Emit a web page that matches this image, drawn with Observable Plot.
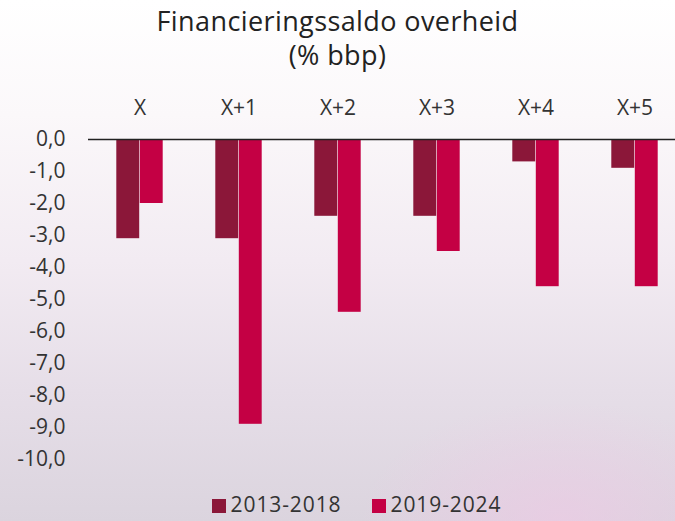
<!DOCTYPE html>
<html>
<head>
<meta charset="utf-8">
<script src="https://cdn.jsdelivr.net/npm/d3@7"></script>
<script src="https://cdn.jsdelivr.net/npm/@observablehq/plot@0.6"></script>
<style>
  html, body { margin: 0; padding: 0; }
  body {
    width: 675px; height: 521px; overflow: hidden;
    font-family: "Open Sans", sans-serif; color: #222;
    background:
      radial-gradient(ellipse 200px 120px at 560px 521px, rgba(240,200,230,0.6), rgba(240,200,230,0)),
      linear-gradient(to bottom, #ffffff 0%, #fbf8fa 22%, #f2ebf2 50%, #e6dee8 75%, #dbd4de 100%);
  }
  #title { height: 80px; text-align: center; font-size: 27px; line-height: 34px; padding-top: 4px; box-sizing: border-box; letter-spacing: 0.4px; }
  #chart svg { display: block; background: transparent; }
  #legend { height: 41px; display: flex; justify-content: center; align-items: center; gap: 30px; font-size: 21px; line-height: 24px; color: #333; padding-top: 6px; padding-left: 38px; box-sizing: border-box; letter-spacing: 0.9px; }
  #legend span.sw { display: inline-block; width: 14px; height: 14px; margin-right: 5px; vertical-align: -1px; }
</style>
</head>
<body>
<div id="title">Financieringssaldo overheid<br>(% bbp)</div>
<div id="chart"></div>
<div id="legend"></div>
<script>
const categories = ["X", "X+1", "X+2", "X+3", "X+4", "X+5"];
const series = ["2013-2018", "2019-2024"];
const values2013_2018 = [-3.1, -3.1, -2.4, -2.4, -0.7, -0.9];
const values2019_2024 = [-2.0, -8.9, -5.4, -3.5, -4.6, -4.6];
const yTicks = [0, -1, -2, -3, -4, -5, -6, -7, -8, -9, -10];
const colors = ["#8b1739", "#c40044"];

const data = [];
categories.forEach((c, i) => {
  data.push({category: c, series: series[0], value: values2013_2018[i]});
  data.push({category: c, series: series[1], value: values2019_2024[i]});
});

const fmt = d => d.toFixed(1).replace(".", ",");
const barW = 23.5;
const step = 99.6;
const inset = (step - barW) / 2;

const plot = Plot.plot({
  width: 675,
  height: 400,
  marginTop: 59,
  marginBottom: 21,
  marginLeft: 88,
  marginRight: 0,
  style: {background: "transparent", fontFamily: "Open Sans, sans-serif", fontSize: "20px", color: "#333"},
  x: {domain: categories, range: [88, 88 + step * 6], padding: 0, axis: null},
  y: {domain: [-10, 0], axis: null},
  color: {domain: series, range: colors},
  marks: [
    Plot.barY(data.filter(d => d.series === series[0]), {x: "category", y: "value", fill: "series", insetLeft: inset, insetRight: inset, dx: -barW / 2}),
    Plot.barY(data.filter(d => d.series === series[1]), {x: "category", y: "value", fill: "series", insetLeft: inset, insetRight: inset, dx: barW / 2}),
    Plot.axisX({anchor: "top", label: null, tickSize: 0, tickPadding: 25, fontSize: 21, fill: "#333"}),
    Plot.axisY({ticks: yTicks, label: null, tickFormat: fmt, tickSize: 0, tickPadding: 23, fontSize: 21, fill: "#333"}),
    Plot.ruleY([0], {stroke: "#222", strokeWidth: 1.5})
  ]
});
document.getElementById("chart").appendChild(plot);

const legend = document.getElementById("legend");
series.forEach((s, i) => {
  const el = document.createElement("div");
  el.innerHTML = `<span class="sw" style="background:${colors[i]}"></span>${s}`;
  legend.appendChild(el);
});
</script>
</body>
</html>
